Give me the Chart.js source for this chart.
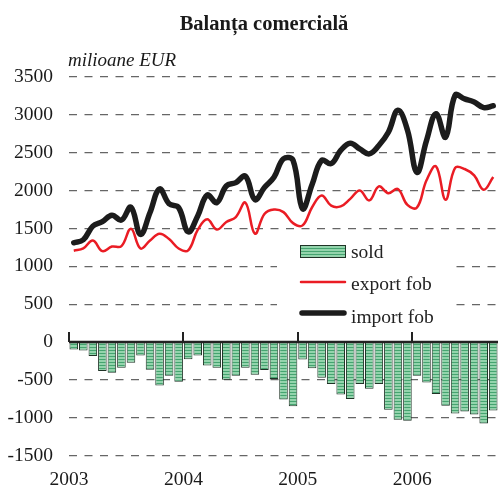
<!DOCTYPE html>
<html>
<head>
<meta charset="utf-8">
<script src="https://cdn.jsdelivr.net/npm/chart.js@4"></script>
<style>
  body { margin: 0; background: #fff; }
  #c { display: block; }
</style>
</head>
<body>
<canvas id="c" width="498" height="488"></canvas>
<script>
// Balanța comercială, lunar, ian. 2003 – sep. 2006 (milioane EUR)
const years = ["2003", "2004", "2005", "2006"];
const yearStarts = [0, 12, 24, 36]; // index of January in each year

const importFob = [
  1310, 1350, 1530, 1590, 1675, 1610, 1780, 1420, 1710, 2020, 1825, 1775,
  1455, 1665, 1940, 1840, 2060, 2105, 2190, 1880, 2040, 2175, 2420, 2400,
  1760, 2080, 2400, 2355, 2530, 2625, 2550, 2485, 2595, 2770, 3060, 2800,
  2240, 2660, 3015, 2705, 3260, 3210, 3170, 3095, 3120,
];
const exportFob = [
  1205, 1235, 1340, 1200, 1260, 1265, 1495, 1235, 1340, 1430, 1360, 1235,
  1210, 1480, 1620, 1485, 1585, 1650, 1840, 1430, 1690, 1750, 1715, 1570,
  1540, 1780, 1935, 1800, 1790, 1890, 2000, 1870, 2055, 1965, 2020, 1810,
  1775, 2135, 2320, 1880, 2300, 2285, 2200, 2010, 2180,
];
const sold = [
  -99, -112, -187, -385, -407, -341, -275, -178, -368, -575, -447, -526,
  -228, -178, -310, -341, -498, -447, -341, -433, -370, -490, -760, -850,
  -233, -346, -473, -555, -694, -753, -555, -619, -555, -894, -1028, -1041,
  -447, -537, -689, -843, -946, -920, -958, -1077, -905,
];

const serif = '"Liberation Serif", "Times New Roman", serif';

// hasura verde cu dungi orizontale pentru bare
function stripePattern() {
  const p = document.createElement("canvas");
  p.width = 4;
  p.height = 3;
  const g = p.getContext("2d");
  g.fillStyle = "#93d4ac";
  g.fillRect(0, 0, 4, 3);
  g.fillStyle = "#45a470";
  g.fillRect(0, 2, 4, 1);
  return document.getElementById("c").getContext("2d").createPattern(p, "repeat");
}
const stripes = stripePattern();

const toXY = (arr) => arr.map((v, i) => ({ x: i + 0.5, y: v }));

// legenda, titlul, linia de zero si reperele anilor
const decor = {
  id: "decor",
  beforeDatasetsDraw(chart) {
    const ctx = chart.ctx;
    ctx.save();
    ctx.fillStyle = "#fff";
    ctx.fillRect(277, 236, 177, 96);
    ctx.restore();
  },
  afterDatasetsDraw(chart) {
    const { ctx, chartArea: a, scales } = chart;
    const y0 = scales.y.getPixelForValue(0);
    ctx.save();
    ctx.strokeStyle = "#222";
    ctx.lineWidth = 2.5;
    ctx.beginPath();
    ctx.moveTo(a.left, y0);
    ctx.lineTo(a.right, y0);
    ctx.stroke();
    ctx.lineWidth = 2;
    yearStarts.forEach((v) => {
      const px = Math.round(scales.x.getPixelForValue(v));
      ctx.beginPath();
      ctx.moveTo(px, y0);
      ctx.lineTo(px, y0 - 10);
      ctx.stroke();
    });

    // legenda
    ctx.fillStyle = stripes;
    ctx.fillRect(300, 245, 46, 13);
    ctx.strokeStyle = "#1f3326";
    ctx.lineWidth = 1;
    ctx.strokeRect(300.5, 245.5, 45, 12);
    ctx.lineCap = "round";
    ctx.strokeStyle = "#ea1c24";
    ctx.lineWidth = 2.5;
    ctx.beginPath();
    ctx.moveTo(301, 282);
    ctx.lineTo(345, 282);
    ctx.stroke();
    ctx.strokeStyle = "#1c1c1c";
    ctx.lineWidth = 5.5;
    ctx.beginPath();
    ctx.moveTo(302, 313);
    ctx.lineTo(344, 313);
    ctx.stroke();
    ctx.fillStyle = "#222";
    ctx.font = "19.5px " + serif;
    ctx.textAlign = "left";
    ctx.textBaseline = "alphabetic";
    ctx.fillText("sold", 351, 258);
    ctx.fillText("export fob", 351, 290);
    ctx.fillText("import fob", 351, 323);
    ctx.restore();
  },
  afterDraw(chart) {
    const ctx = chart.ctx;
    ctx.save();
    ctx.fillStyle = "#1a1a1a";
    ctx.textBaseline = "alphabetic";
    ctx.textAlign = "center";
    ctx.font = "bold 20.5px " + serif;
    ctx.fillText("Balanța comercială", 264, 30);
    ctx.textAlign = "left";
    ctx.font = "italic 19px " + serif;
    ctx.fillText("milioane EUR", 68, 66);
    ctx.restore();
  },
};

new Chart(document.getElementById("c"), {
  data: {
    datasets: [
      {
        type: "line",
        label: "import fob",
        data: toXY(importFob),
        borderColor: "#1c1c1c",
        borderWidth: 5.5,
        pointRadius: 0,
        tension: 0.4,
        borderCapStyle: "round",
        borderJoinStyle: "round",
      },
      {
        type: "line",
        label: "export fob",
        data: toXY(exportFob),
        borderColor: "#ea1c24",
        borderWidth: 2.5,
        pointRadius: 0,
        tension: 0.4,
      },
      {
        type: "bar",
        label: "sold",
        data: toXY(sold),
        backgroundColor: stripes,
        borderColor: "#1f3326",
        borderWidth: 1,
        barPercentage: 0.9,
        categoryPercentage: 1,
      },
    ],
  },
  options: {
    responsive: false,
    animation: false,
    layout: { padding: { top: 77, right: 0, left: 0, bottom: 0 } },
    plugins: {
      legend: { display: false },
      title: { display: false },
      tooltip: { enabled: false },
    },
    scales: {
      x: {
        type: "linear",
        offset: false,
        min: 0,
        max: 45,
        afterBuildTicks: (s) => {
          s.ticks = yearStarts.map((v) => ({ value: v }));
        },
        afterFit: (s) => {
          s.height = 32.5;
        },
        ticks: {
          autoSkip: false,
          maxRotation: 0,
          padding: 5,
          color: "#1a1a1a",
          font: { family: serif, size: 19.5 },
          callback: (v) => years[yearStarts.indexOf(v)],
        },
        grid: { display: false },
        border: { display: false },
      },
      y: {
        min: -1500,
        max: 3500,
        afterBuildTicks: (s) => {
          const t = [];
          for (let v = -1500; v <= 3500; v += 500) t.push({ value: v });
          s.ticks = t;
        },
        afterFit: (s) => {
          s.width = 69;
        },
        ticks: {
          padding: 16,
          color: "#1a1a1a",
          font: { family: serif, size: 19.5 },
          callback: (v) => String(v),
        },
        grid: {
          drawTicks: false,
          color: (c) => (c.tick && c.tick.value === 0 ? "rgba(0,0,0,0)" : "#666"),
          lineWidth: 1.2,
        },
        border: { display: false, dash: [8, 7.5] },
      },
    },
  },
  plugins: [decor],
});
</script>
</body>
</html>
